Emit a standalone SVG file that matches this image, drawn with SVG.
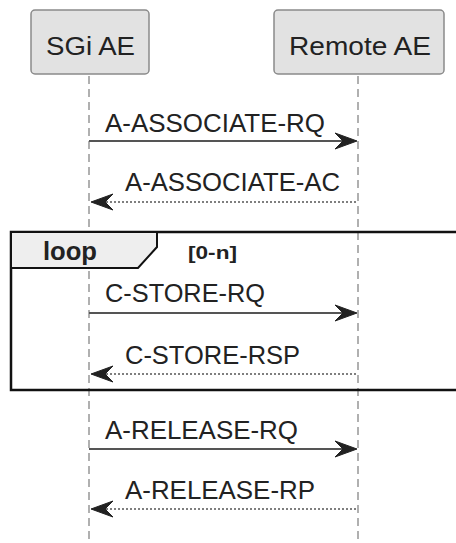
<svg xmlns="http://www.w3.org/2000/svg" width="456" height="543" viewBox="0 0 456 543">
<defs>
<style>
.box{fill:#e2e2e2;stroke:#8a8a8a;stroke-width:1.5}
.life{stroke:#b0b0b0;stroke-width:2;stroke-dasharray:8,5;fill:none}
.t{font-family:"Liberation Sans",Arial,sans-serif;font-size:26px;fill:#222}
.msg{stroke:#555;stroke-width:2;fill:none}
.ret{stroke:#555;stroke-width:1.6;stroke-dasharray:2,2;fill:none}
.head{fill:#222;stroke:#222;stroke-width:1}
.frame{fill:none;stroke:#111;stroke-width:2.5}
.tab{fill:#eeeeee;stroke:#111;stroke-width:2}
.b{font-family:"Liberation Sans",Arial,sans-serif;font-weight:bold;fill:#222}
</style>
</defs>
<g id="lifelines">
<line class="life" x1="89" y1="76" x2="89" y2="543"/>
<line class="life" x1="358" y1="76" x2="358" y2="543"/>
</g>
<g id="sgi">
<rect class="box" x="31" y="10" width="118" height="64" rx="4"/>
<text class="t" x="46" y="55" textLength="89" lengthAdjust="spacingAndGlyphs">SGi AE</text>
</g>
<g id="remote">
<rect class="box" x="274" y="10" width="170" height="64" rx="4"/>
<text class="t" x="289" y="55" textLength="142" lengthAdjust="spacingAndGlyphs">Remote AE</text>
</g>
<g id="loop">
<rect class="frame" x="11" y="232" width="470" height="158"/>
<path class="tab" d="M11,232 H157 V247 L138,268 H11 Z"/>
<text class="b" x="43" y="260" font-size="25" textLength="54" lengthAdjust="spacingAndGlyphs">loop</text>
<text class="b" x="188" y="259" font-size="19" textLength="49" lengthAdjust="spacingAndGlyphs">[0-n]</text>
</g>
<g id="connectors">
<line class="msg" x1="89" y1="141" x2="350" y2="141"/>
<polygon class="head" points="357,141 335,133 343,141 335,149"/>
<text class="t" x="105" y="132" textLength="220" lengthAdjust="spacingAndGlyphs">A-ASSOCIATE-RQ</text>

<line class="ret" x1="356" y1="202" x2="98" y2="202"/>
<polygon class="head" points="91,202 113,194 105,202 113,210"/>
<text class="t" x="125" y="191" textLength="215" lengthAdjust="spacingAndGlyphs">A-ASSOCIATE-AC</text>

<line class="msg" x1="89" y1="313" x2="350" y2="313"/>
<polygon class="head" points="357,313 335,305 343,313 335,321"/>
<text class="t" x="105" y="302" textLength="160" lengthAdjust="spacingAndGlyphs">C-STORE-RQ</text>

<line class="ret" x1="356" y1="374" x2="98" y2="374"/>
<polygon class="head" points="91,374 113,366 105,374 113,382"/>
<text class="t" x="125" y="364" textLength="175" lengthAdjust="spacingAndGlyphs">C-STORE-RSP</text>

<line class="msg" x1="89" y1="449" x2="350" y2="449"/>
<polygon class="head" points="357,449 335,441 343,449 335,457"/>
<text class="t" x="105" y="439" textLength="193" lengthAdjust="spacingAndGlyphs">A-RELEASE-RQ</text>

<line class="ret" x1="356" y1="509" x2="98" y2="509"/>
<polygon class="head" points="91,509 113,501 105,509 113,517"/>
<text class="t" x="125" y="499" textLength="190" lengthAdjust="spacingAndGlyphs">A-RELEASE-RP</text>
</g>
</svg>
